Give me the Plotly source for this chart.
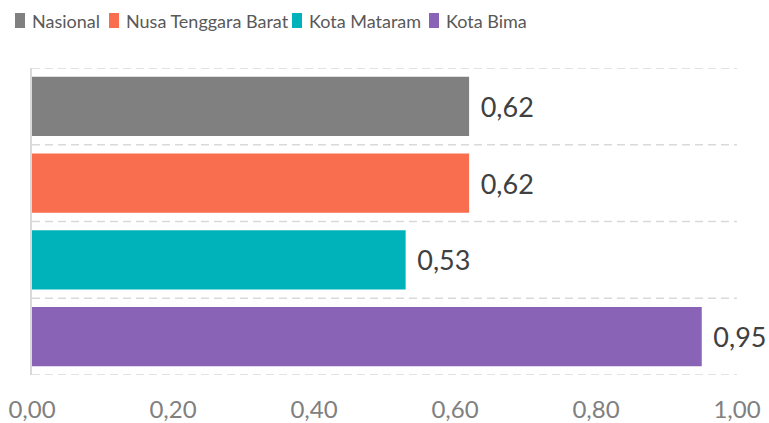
import plotly.graph_objects as go

categories = ["Nasional", "Nusa Tenggara Barat", "Kota Mataram", "Kota Bima"]
values = [0.62, 0.62, 0.53, 0.95]
colors = ["#808080", "#F96E4E", "#00B3BB", "#8963B6"]
tick_vals = [0.0, 0.2, 0.4, 0.6, 0.8, 1.0]

FONT = "Lato, 'Open Sans', sans-serif"

W, H = 769, 423
ML, MR, MT, MB = 32, 32, 68, 48
PW, PH = W - ML - MR, H - MT - MB


def px_x(px):
    return (px - ML) / PW


def px_y(py):
    return (H - MB - py) / PH


fig = go.Figure()
for cat, val, col in zip(categories, values, colors):
    fig.add_trace(go.Bar(
        y=[cat], x=[val], name=cat, orientation="h",
        marker=dict(color=col, line=dict(width=0)),
        width=0.77,
        texttemplate="\u00a0\u200a%{x:.2f}",
        textposition="outside",
        cliponaxis=False,
        constraintext="none",
        textfont=dict(family=FONT, size=27, color="#404040"),
        hoverinfo="skip",
        showlegend=False,
    ))

n = len(categories)
shapes = []
for i in range(n + 1):
    b = i - 0.5
    shapes.append(dict(
        type="line", xref="paper", x0=0, x1=1, yref="y", y0=b, y1=b,
        line=dict(color="#D9D9D9", width=1.5, dash="8px,5px"), layer="below",
    ))

# legend (drawn manually to mimic the compact spacing of the original)
legend_key_x = [15, 109, 292, 429]
annotations = []
for cat, col, kx in zip(categories, colors, legend_key_x):
    shapes.append(dict(
        type="rect", xref="paper", yref="paper",
        x0=px_x(kx), x1=px_x(kx + 10), y0=px_y(28), y1=px_y(13),
        fillcolor=col, line=dict(width=0),
    ))
    annotations.append(dict(
        text=cat, xref="paper", yref="paper", x=px_x(kx + 15), y=px_y(21),
        xanchor="left", yanchor="middle", showarrow=False,
        font=dict(family=FONT, size=18, color="#595959"),
    ))

fig.update_layout(
    width=W, height=H,
    margin=dict(l=ML, r=MR, t=MT, b=MB, autoexpand=False),
    paper_bgcolor="white", plot_bgcolor="white",
    separators=",.",
    barmode="overlay",
    shapes=shapes,
    annotations=annotations,
    showlegend=False,
    xaxis=dict(
        range=[0, 1], tickvals=tick_vals, tickformat=".2f",
        showgrid=False, zeroline=False, showline=False, ticks="",
        automargin=False, ticklabelstandoff=18,
        tickfont=dict(family=FONT, size=24, color="#808080"),
    ),
    yaxis=dict(
        type="category", categoryarray=categories, automargin=False,
        range=[n - 0.5, -0.5], showticklabels=False, showgrid=False,
        zeroline=False, showline=True, linecolor="#D9D9D9", linewidth=2, ticks="",
    ),
)

fig.write_html("out.html", config={"displayModeBar": False},
               post_script="document.body.style.margin='0';")
